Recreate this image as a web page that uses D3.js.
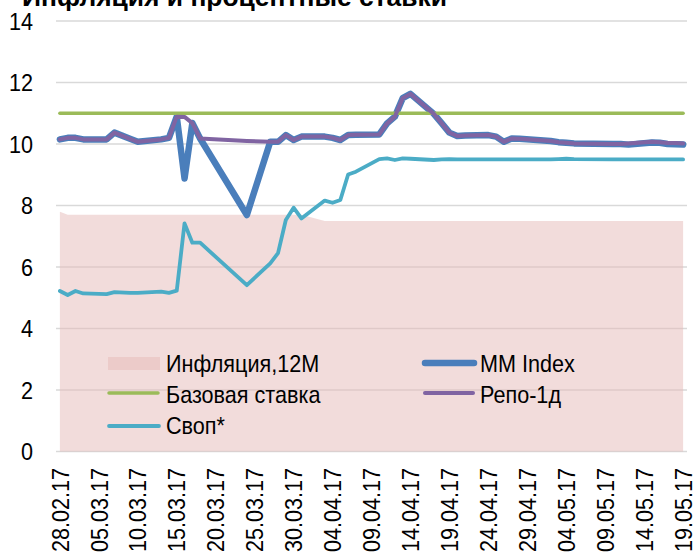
<!DOCTYPE html>
<html><head><meta charset="utf-8">
<script src="https://cdn.jsdelivr.net/npm/d3@7"></script>
<style>
html,body{margin:0;padding:0;background:#fff;}
svg{display:block;}
text{font-family:"Liberation Sans",Arial,sans-serif;fill:#000;}
</style></head><body>
<svg id="chart" width="696" height="558"></svg>
<script>
const title = "Инфляция и процентные ставки";
const dates = ["2017-02-28","2017-03-01","2017-03-02","2017-03-03","2017-03-06","2017-03-07","2017-03-09","2017-03-10",
"2017-03-13","2017-03-14","2017-03-15","2017-03-16","2017-03-17","2017-03-18","2017-03-24","2017-03-27","2017-03-28",
"2017-03-29","2017-03-30","2017-03-31","2017-04-03","2017-04-04","2017-04-05","2017-04-06","2017-04-07","2017-04-10",
"2017-04-11","2017-04-12","2017-04-13","2017-04-14","2017-04-17","2017-04-18","2017-04-19","2017-04-20","2017-04-21",
"2017-04-24","2017-04-25","2017-04-26","2017-04-27","2017-04-28","2017-05-02","2017-05-03","2017-05-04","2017-05-05",
"2017-05-10","2017-05-11","2017-05-12","2017-05-15","2017-05-16","2017-05-17","2017-05-18","2017-05-19"];
const inflation = [7.8,7.7,7.7,7.7,7.7,7.7,7.7,7.7,7.7,7.7,7.7,7.7,7.7,7.7,7.7,7.7,7.7,7.7,7.7,7.7,
7.5,7.5,7.5,7.5,7.5,7.5,7.5,7.5,7.5,7.5,7.5,7.5,7.5,7.5,7.5,7.5,7.5,7.5,7.5,7.5,7.5,7.5,7.5,7.5,7.5,7.5,7.5,7.5,7.5,7.5,7.5,7.5];
const mmIndex = [10.15,10.2,10.2,10.15,10.15,10.37,10.17,10.07,10.15,10.2,10.89,8.88,10.68,10.18,7.69,10.07,10.07,
10.29,10.13,10.24,10.24,10.2,10.13,10.29,10.3,10.31,10.67,10.89,11.49,11.63,10.98,10.68,10.37,10.26,10.28,
10.29,10.24,10.07,10.18,10.17,10.1,10.06,10.04,10.02,10.0,10.0,9.98,10.05,10.04,10.0,9.99,9.98];
const baseRate = [11,11,11,11,11,11,11,11,11,11,11,11,11,11,11,11,11,11,11,11,11,11,11,11,11,11,
11,11,11,11,11,11,11,11,11,11,11,11,11,11,11,11,11,11,11,11,11,11,11,11,11,11];
const repo = [10.15,10.2,10.2,10.15,10.15,10.37,10.17,10.07,10.15,10.2,10.89,10.88,10.68,10.18,10.1,10.07,10.07,
10.29,10.13,10.24,10.24,10.2,10.13,10.29,10.3,10.31,10.67,10.89,11.49,11.63,10.98,10.68,10.37,10.26,10.28,
10.29,10.24,10.07,10.18,10.17,10.1,10.06,10.04,10.02,10.0,10.0,10.02,10.07,10.06,10.03,10.03,10.02];
const swap = [5.22,5.09,5.22,5.14,5.12,5.18,5.16,5.16,5.2,5.16,5.23,7.42,6.79,6.79,5.41,6.12,6.45,
7.53,7.93,7.58,8.16,8.09,8.18,9.01,9.1,9.51,9.53,9.48,9.53,9.52,9.48,9.5,9.51,9.5,9.5,
9.5,9.5,9.5,9.5,9.5,9.5,9.51,9.52,9.51,9.5,9.5,9.5,9.5,9.5,9.5,9.5,9.5];
const xTickLabels = ["28.02.17","05.03.17","10.03.17","15.03.17","20.03.17","25.03.17","30.03.17","04.04.17",
"09.04.17","14.04.17","19.04.17","24.04.17","29.04.17","04.05.17","09.05.17","14.05.17","19.05.17"];
const yTicks = [0,2,4,6,8,10,12,14];
const legendItems = ["Инфляция,12М","MM Index","Базовая ставка","Репо-1д","Своп*"];

const parse = d3.utcParse("%Y-%m-%d");
const parseLabel = d3.utcParse("%d.%m.%y");
const D = dates.map(parse);
const day = 864e5;
const svg = d3.select("#chart");
const SX = 0.9;

const x = d3.scaleUtc()
  .domain([new Date(D[0].getTime() - day/2), new Date(D[D.length-1].getTime() + day/2)])
  .range([56, 687]);
const y = d3.scaleLinear().domain([0,14]).range([451.5, 21]);

// gridlines
svg.append("g").selectAll("line").data(yTicks).join("line")
  .attr("x1", 56).attr("x2", 687)
  .attr("y1", d => y(d)).attr("y2", d => y(d))
  .attr("stroke", "#d9d9d9").attr("stroke-width", 1.5);

// y labels
svg.append("g").selectAll("text").data(yTicks).join("text")
  .attr("transform", d => `translate(33,${y(d)}) scale(${SX},1)`)
  .attr("text-anchor", "end").attr("dy", "0.36em")
  .attr("font-size", 24).text(d => d);

// x labels
svg.append("g").selectAll("text").data(xTickLabels).join("text")
  .attr("transform", d => `translate(${x(parseLabel(d))},468) rotate(-90) scale(${SX},1)`)
  .attr("text-anchor", "end").attr("dy", "0.36em")
  .attr("font-size", 24).text(d => d);

const areaFill = "rgb(230,185,184)";
// inflation area
svg.append("path")
  .attr("d", d3.area().x((d,i) => x(D[i])).y0(y(0)).y1(d => y(d))(inflation))
  .attr("fill", areaFill).attr("fill-opacity", 0.5);

const line = d3.line().x((d,i) => x(D[i])).y(d => y(d));
const series = [
  {v: mmIndex, c: "#4a7ebb", w: 6.5},
  {v: baseRate, c: "#9bbb59", w: 3.5},
  {v: repo, c: "#8064a2", w: 4},
  {v: swap, c: "#4bacc6", w: 3.8}
];
series.forEach(s => {
  svg.append("path").attr("d", line(s.v)).attr("fill", "none")
    .attr("stroke", s.c).attr("stroke-width", s.w)
    .attr("stroke-linecap", "round").attr("stroke-linejoin", "round");
});

// legend
const lg = svg.append("g");
lg.append("rect").attr("x", 108).attr("y", 357).attr("width", 52).attr("height", 13)
  .attr("fill", areaFill).attr("fill-opacity", 0.5);
const legLines = [
  {x1: 425, x2: 474, y: 363, c: "#4a7ebb", w: 6.5},
  {x1: 109, x2: 158, y: 393, c: "#9bbb59", w: 3.5},
  {x1: 425, x2: 473, y: 393, c: "#8064a2", w: 4},
  {x1: 109, x2: 159, y: 426, c: "#4bacc6", w: 3.8}
];
legLines.forEach(l => lg.append("line").attr("x1", l.x1).attr("x2", l.x2).attr("y1", l.y).attr("y2", l.y)
  .attr("stroke", l.c).attr("stroke-width", l.w).attr("stroke-linecap", "round"));
const legText = [
  {t: legendItems[0], x: 166, y: 372},
  {t: legendItems[1], x: 480, y: 372},
  {t: legendItems[2], x: 166, y: 403},
  {t: legendItems[3], x: 480, y: 403},
  {t: legendItems[4], x: 166, y: 434}
];
legText.forEach(l => lg.append("text").attr("transform", `translate(${l.x},${l.y}) scale(${SX},1)`)
  .attr("font-size", 24).text(l.t));

// title (cut at top)
svg.append("text").attr("x", 22).attr("y", 6).attr("font-size", 26).attr("font-weight", "bold")
  .attr("textLength", 425).attr("lengthAdjust", "spacingAndGlyphs").text(title);
</script>
</body></html>
